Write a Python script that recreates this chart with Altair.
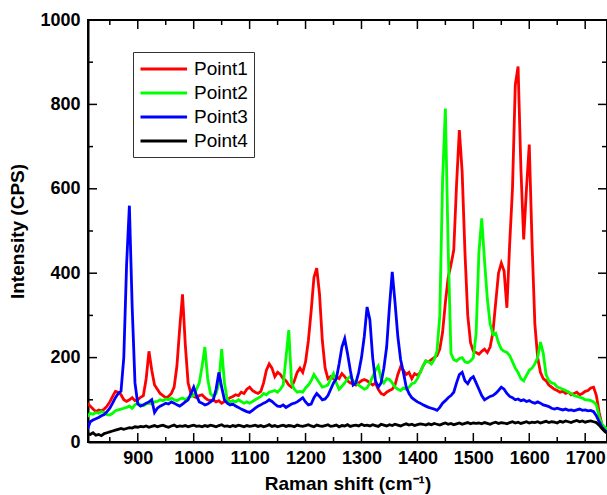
import altair as alt
import pandas as pd

# Raman shift sampling grid (cm^-1)
shift = list(range(810, 1745, 5))

point1 = [
    92, 85, 78, 72, 76, 74, 78, 85, 95, 108, 120, 118, 112, 100, 96, 100, 105, 98, 100, 106,
    110, 150, 215, 170, 135, 125, 115, 110, 105, 108, 115, 130, 180, 270, 350, 230, 140, 115, 108, 105,
    110, 112, 105, 100, 98, 100, 95, 98, 92, 96, 100, 105, 108, 112, 110, 118, 115, 125, 130, 122,
    118, 115, 120, 140, 170, 185, 175, 155, 165, 160, 150, 145, 135, 130, 145, 165, 175, 165, 190, 240,
    310, 390, 412, 350, 240, 175, 150, 155, 150, 155, 150, 162, 155, 145, 140, 138, 135, 140, 145, 148,
    145, 140, 135, 140, 125, 115, 112, 118, 122, 125, 135, 160, 178, 170, 160, 165, 150, 162, 158, 165,
    180, 192, 190, 195, 200, 205, 220, 260, 330, 390, 420, 455, 610, 739, 640, 450, 300, 235, 215, 212,
    208, 215, 220, 212, 225, 260, 330, 400, 424, 405, 318, 470, 600, 846, 890, 650, 480, 600, 705, 470,
    280, 200, 165, 150, 145, 135, 130, 125, 122, 118, 120, 115, 118, 112, 115, 118, 112, 115, 120, 122,
    128, 130, 110, 70, 40, 30, 22,
]

point2 = [
    60, 68, 66, 70, 68, 72, 70, 65, 64, 68, 74, 76, 78, 80, 82, 85, 80, 88, 92, 88,
    86, 90, 92, 90, 95, 96, 100, 98, 102, 100, 104, 100, 98, 102, 104, 100, 105, 108, 110, 125,
    140, 180, 225, 150, 115, 108, 115, 140, 220, 140, 100, 95, 98, 95, 100, 96, 92, 95, 92, 96,
    100, 104, 108, 115, 112, 118, 120, 122, 118, 125, 135, 200, 265, 140, 125, 118, 120, 118, 128, 135,
    145, 160, 150, 140, 130, 132, 135, 150, 162, 140, 125, 132, 140, 150, 155, 145, 140, 135, 130, 125,
    128, 140, 155, 170, 180, 150, 140, 150, 148, 140, 130, 125, 122, 128, 125, 130, 138, 140, 150, 165,
    180, 192, 190, 185, 195, 215, 300, 620, 790, 460, 210, 195, 192, 198, 200, 190, 188, 192, 200, 258,
    450, 530, 430, 340, 280, 255, 258, 235, 220, 215, 212, 205, 190, 175, 165, 150, 145, 158, 170, 175,
    185, 200, 237, 210, 160, 145, 140, 138, 130, 128, 125, 122, 118, 115, 110, 108, 106, 104, 100, 100,
    98, 95, 88, 60, 42, 35, 30,
]

point3 = [
    30, 48, 52, 55, 58, 62, 65, 72, 80, 92, 105, 115, 120, 200, 420, 560, 320, 140, 90, 85,
    88, 92, 95, 100, 70, 80, 85, 88, 92, 90, 95, 92, 88, 85, 90, 95, 100, 115, 130, 110,
    95, 92, 88, 90, 95, 100, 125, 165, 130, 100, 92, 88, 90, 85, 82, 78, 75, 72, 70, 75,
    80, 85, 88, 92, 95, 100, 96, 90, 85, 84, 88, 82, 86, 90, 92, 95, 100, 105, 95, 88,
    90, 105, 115, 108, 100, 102, 110, 125, 140, 150, 185, 225, 245, 210, 170, 135, 140, 165, 200, 250,
    320, 290, 200, 145, 130, 140, 175, 225, 320, 403, 330, 250, 195, 165, 130, 115, 105, 100, 95, 92,
    88, 85, 82, 80, 78, 75, 82, 92, 98, 105, 110, 118, 140, 160, 165, 145, 138, 150, 155, 140,
    125, 110, 100, 104, 108, 110, 115, 122, 130, 125, 115, 108, 105, 100, 102, 98, 100, 96, 98, 94,
    92, 95, 92, 88, 86, 84, 80, 78, 80, 78, 76, 78, 75, 76, 74, 76, 78, 75, 76, 74,
    75, 72, 62, 48, 35, 28, 22,
]

point4 = [
    20, 18, 22, 16, 18, 15, 20, 22, 24, 26, 28, 30, 32, 30, 32, 34, 33, 36, 35, 37,
    36, 38, 35, 37, 39, 36, 38, 40, 37, 35, 38, 40, 36, 38, 37, 39, 36, 38, 40, 37,
    38, 36, 39, 37, 40, 38, 36, 39, 41, 37, 38, 36, 39, 37, 40, 38, 36, 39, 37, 38,
    40, 37, 39, 36, 38, 41, 37, 39, 36, 38, 40, 37, 39, 38, 36, 40, 38, 37, 39, 41,
    38, 36, 40, 38, 37, 39, 41, 37, 38, 40, 36, 39, 38, 41, 37, 39, 40, 38, 42, 39,
    40, 38, 41, 39, 37, 42, 40, 38, 41, 39, 42, 40, 38, 41, 43, 40, 42, 39, 41, 43,
    42, 40, 43, 41, 44, 42, 40, 43, 45, 42, 44, 41, 43, 45, 42, 44, 46, 43, 45, 44,
    45, 43, 46, 44, 42, 45, 47, 44, 46, 45, 43, 46, 48, 45, 47, 44, 46, 48, 45, 47,
    46, 48, 45, 47, 49, 46, 48, 47, 45, 49, 47, 50, 48, 46, 49, 51, 48, 50, 47, 49,
    50, 48, 46, 40, 32, 25, 20,
]

series_names = ["Point1", "Point2", "Point3", "Point4"]
series_colors = ["#ff0000", "#00ff00", "#0000ff", "#000000"]

x_major = [900, 1000, 1100, 1200, 1300, 1400, 1500, 1600, 1700]
x_minor = [850, 950, 1050, 1150, 1250, 1350, 1450, 1550, 1650]
y_major = [0, 200, 400, 600, 800, 1000]
y_minor = [100, 300, 500, 700, 900]

rows = []
for name, vals in zip(series_names, [point1, point2, point3, point4]):
    for s, v in zip(shift, vals):
        rows.append({"shift": s, "value": v, "series": name})
df = pd.DataFrame(rows)

W, H = 519, 422
FONT = "Liberation Sans"
xdom = [811, 1739]
ydom = [0, 1000]

xscale = alt.Scale(domain=xdom, nice=False, zero=False)
yscale = alt.Scale(domain=ydom, nice=False, zero=False)

lines = alt.Chart(df).mark_line(strokeWidth=2.8, clip=True).encode(
    x=alt.X("shift:Q", scale=xscale,
            axis=alt.Axis(values=x_major, format="d", title="Raman shift (cm⁻¹)", ticks=False,
                          labelPadding=7, titlePadding=7, grid=False)),
    y=alt.Y("value:Q", scale=yscale,
            axis=alt.Axis(values=y_major, format="d", title="Intensity (CPS)", ticks=False,
                          labelPadding=8, titlePadding=12, grid=False)),
    color=alt.Color("series:N",
                    scale=alt.Scale(domain=series_names, range=series_colors),
                    legend=alt.Legend(title=None, orient="none", legendX=45, legendY=32,
                                      symbolType="M-1,0H3.9", symbolSize=361,
                                      symbolStrokeWidth=3, labelFontSize=19,
                                      labelFont=FONT, labelColor="black",
                                      strokeColor="#333333", fillColor="white",
                                      padding=6, rowPadding=3, labelOffset=33)),
)

xmaj_df = pd.DataFrame({"t": x_major})
xmin_df = pd.DataFrame({"t": x_minor})
ymaj_df = pd.DataFrame({"t": y_major})
ymin_df = pd.DataFrame({"t": y_minor})

def xticks(d, length):
    bot = alt.Chart(d).mark_rule(color="black", strokeWidth=1.5).encode(
        x=alt.X("t:Q", scale=xscale), y=alt.value(H), y2=alt.value(H - length))
    top = alt.Chart(d).mark_rule(color="black", strokeWidth=1.5).encode(
        x=alt.X("t:Q", scale=xscale), y=alt.value(0), y2=alt.value(length))
    return [bot, top]

def yticks(d, length):
    left = alt.Chart(d).mark_rule(color="black", strokeWidth=1.5).encode(
        y=alt.Y("t:Q", scale=yscale), x=alt.value(0), x2=alt.value(length))
    right = alt.Chart(d).mark_rule(color="black", strokeWidth=1.5).encode(
        y=alt.Y("t:Q", scale=yscale), x=alt.value(W), x2=alt.value(W - length))
    return [left, right]

tick_layers = xticks(xmaj_df, 9) + xticks(xmin_df, 5) + yticks(ymaj_df, 9) + yticks(ymin_df, 5)

chart = alt.layer(lines, *tick_layers).properties(
    width=W, height=H,
    autosize=alt.AutoSizeParams(type="none"),
    padding={"left": 88, "top": 20, "right": 0, "bottom": 53},
).configure(
    background="white"
).configure_view(
    stroke="black", strokeWidth=2
).configure_axis(
    domainColor="black", domainWidth=2,
    labelFont=FONT, labelFontSize=18, labelFontWeight="bold", labelColor="black",
    titleFont=FONT, titleFontSize=19, titleFontWeight="bold", titleColor="black",
)

chart.save("out.html", embed_options={"renderer": "svg", "actions": False})
